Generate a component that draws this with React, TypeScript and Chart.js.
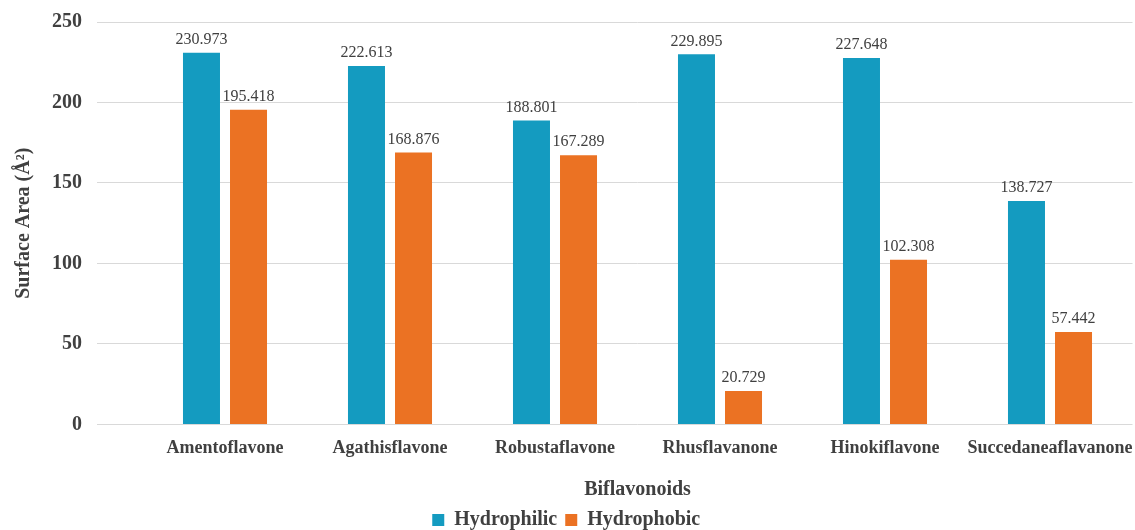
import React, { useEffect, useRef } from "react";
import { Chart, registerables } from "chart.js";

Chart.register(...registerables);

const categories = [
  "Amentoflavone",
  "Agathisflavone",
  "Robustaflavone",
  "Rhusflavanone",
  "Hinokiflavone",
  "Succedaneaflavanone",
];
const hydrophilic = [230.973, 222.613, 188.801, 229.895, 227.648, 138.727];
const hydrophobic = [195.418, 168.876, 167.289, 20.729, 102.308, 57.442];

const SERIF = "'Liberation Serif', 'Times New Roman', serif";
const TEXT = "#404040";

const valueLabels = {
  id: "valueLabels",
  afterDatasetsDraw(chart: any) {
    const ctx = chart.ctx;
    ctx.save();
    ctx.font = `16px ${SERIF}`;
    ctx.fillStyle = TEXT;
    ctx.textAlign = "center";
    ctx.textBaseline = "bottom";
    chart.data.datasets.forEach((ds: any, i: number) => {
      const meta = chart.getDatasetMeta(i);
      meta.data.forEach((el: any, j: number) => {
        const v = ds.data[j] as number;
        ctx.fillText(v.toFixed(3), el.x, el.y - 5);
      });
    });
    ctx.restore();
  },
};

export default function App() {
  const ref = useRef<HTMLCanvasElement | null>(null);
  useEffect(() => {
    if (!ref.current) return;
    const chart = new Chart(ref.current, {
      type: "bar",
      data: {
        labels: categories,
        datasets: [
          {
            label: "Hydrophilic",
            data: hydrophilic,
            backgroundColor: "#149BC0",
            categoryPercentage: 0.57,
            barPercentage: 0.787,
          },
          {
            label: "Hydrophobic",
            data: hydrophobic,
            backgroundColor: "#EB7223",
            categoryPercentage: 0.57,
            barPercentage: 0.787,
          },
        ],
      },
      options: {
        responsive: false,
        animation: false,
        devicePixelRatio: 1,
        layout: { padding: { top: 22, right: 2.5, left: 0, bottom: -10 } },
        plugins: {
          legend: {
            position: "bottom",
            labels: {
              boxWidth: 12,
              boxHeight: 12,
              padding: 8,
              color: TEXT,
              font: { family: SERIF, size: 20, weight: "bold" },
            },
          },
          tooltip: { enabled: false },
        },
        scales: {
          x: {
            afterFit: (scale: any) => {
              scale.paddingLeft = 0;
              scale.paddingRight = 0;
            },
            grid: { display: false },
            border: { display: false },
            ticks: {
              color: TEXT,
              padding: 5,
              maxRotation: 0,
              minRotation: 0,
              autoSkip: false,
              font: { family: SERIF, size: 18, weight: "bold" },
            },
            title: {
              display: true,
              text: "Biflavonoids",
              color: TEXT,
              padding: { top: 14, bottom: 0 },
              font: { family: SERIF, size: 20, weight: "bold" },
            },
          },
          y: {
            min: 0,
            max: 250,
            afterFit: (scale: any) => {
              scale.width = 142.5;
              scale.paddingTop = 0;
              scale.paddingBottom = 0;
            },
            ticks: {
              stepSize: 50,
              color: TEXT,
              padding: 15,
              font: { family: SERIF, size: 20, weight: "bold" },
            },
            grid: {
              color: "#D9D9D9",
              tickColor: "#D9D9D9",
              drawTicks: true,
              tickLength: 45.5,
            },
            border: { display: false },
            title: {
              display: true,
              text: "Surface Area (Å²)",
              color: TEXT,
              padding: { top: 12, bottom: 0 },
              font: { family: SERIF, size: 20, weight: "bold" },
            },
          },
        },
      },
      plugins: [valueLabels],
    });
    return () => chart.destroy();
  }, []);
  return (
    <div style={{ position: "fixed", left: 0, top: 0, width: 1135, height: 530, background: "#fff" }}>
      <canvas ref={ref} width={1135} height={530} />
    </div>
  );
}
